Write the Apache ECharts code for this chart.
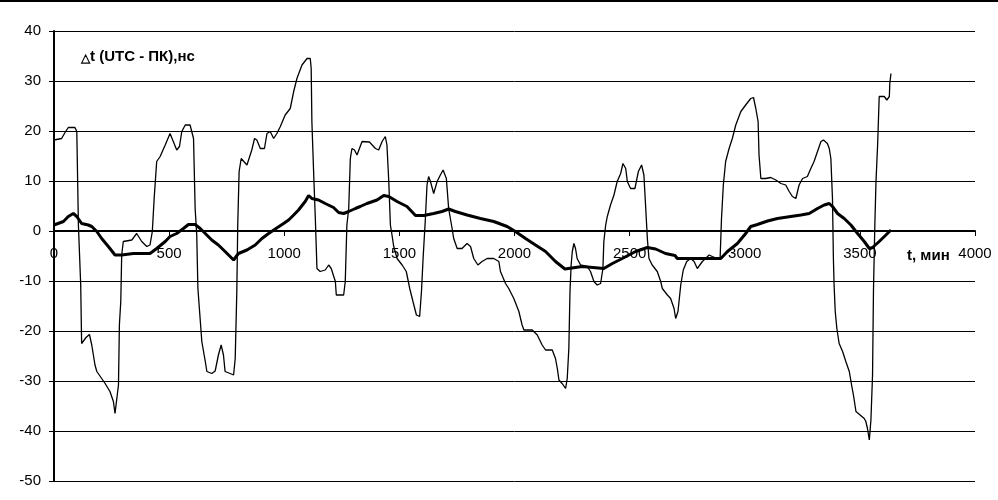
<!DOCTYPE html>
<html>
<head>
<meta charset="utf-8">
<script src="https://cdn.jsdelivr.net/npm/echarts@6/dist/echarts.min.js"></script>
<style>
  html, body { margin: 0; padding: 0; background: #fff; }
  #chart { width: 998px; height: 500px; }
</style>
</head>
<body>
<div id="chart"></div>
<script>
// x ticks (мин) and y ticks (нс)
var xTicks = [0, 500, 1000, 1500, 2000, 2500, 3000, 3500, 4000];
var yTicks = [-50, -40, -30, -20, -10, 0, 10, 20, 30, 40];

// thin curve: raw difference
var thinT = [0, 33, 48, 62, 91, 99, 106, 116, 120, 139, 154, 164, 178, 186, 222, 243, 258, 265, 272, 280,
  284, 290, 294, 301, 338, 359, 381, 403, 417, 427, 435, 446, 461, 483, 504, 512, 533, 545, 555, 570,
  591, 606, 613, 620, 625, 642, 657, 664, 685, 700, 714, 726, 736, 743, 765, 780, 787, 794, 798, 804,
  813, 838, 859, 871, 881, 896, 914, 925, 939, 954, 968, 983, 1004, 1026, 1041, 1055, 1077, 1099, 1113, 1117,
  1120, 1128, 1135, 1142, 1156, 1178, 1193, 1204, 1222, 1226, 1258, 1265, 1272, 1280, 1287, 1294, 1305, 1316, 1338, 1345,
  1370, 1396, 1410, 1425, 1439, 1446, 1454, 1461, 1468, 1475, 1490, 1512, 1530, 1545, 1559, 1574, 1588, 1596, 1603, 1613,
  1620, 1627, 1635, 1649, 1664, 1678, 1690, 1704, 1714, 1729, 1736, 1751, 1772, 1794, 1809, 1823, 1841, 1859, 1881, 1910,
  1932, 1939, 1961, 1975, 1997, 2019, 2033, 2041, 2077, 2099, 2120, 2135, 2164, 2178, 2186, 2193, 2207, 2222, 2229, 2236,
  2241, 2246, 2251, 2258, 2265, 2272, 2287, 2316, 2330, 2345, 2359, 2374, 2384, 2388, 2396, 2403, 2417, 2432, 2446, 2461,
  2471, 2483, 2490, 2504, 2523, 2538, 2552, 2562, 2570, 2577, 2584, 2598, 2620, 2635, 2642, 2664, 2678, 2693, 2700, 2710,
  2722, 2733, 2748, 2765, 2780, 2794, 2816, 2830, 2845, 2859, 2881, 2893, 2899, 2907, 2917, 2932, 2946, 2961, 2983, 3004,
  3026, 3038, 3048, 3058, 3062, 3070, 3091, 3113, 3135, 3157, 3178, 3193, 3207, 3222, 3236, 3251, 3272, 3287, 3301, 3316,
  3331, 3342, 3359, 3367, 3374, 3381, 3385, 3388, 3393, 3400, 3410, 3425, 3439, 3454, 3464, 3472, 3483, 3501, 3519, 3526,
  3533, 3541, 3545, 3548, 3555, 3559, 3565, 3570, 3577, 3584, 3606, 3617, 3628, 3630, 3635];
var thinV = [18.2, 18.5, 19.7, 20.7, 20.7, 19.9, 1.2, -10.8, -22.5, -21.3, -20.7, -22.8, -26.8, -28.1, -30.5, -32.1, -34.1, -36.5, -36.5, -30.8,
  -18.8, -14.1, -4.8, -2.1, -1.8, -0.5, -2.1, -3.1, -2.8, -0.1, 6.5, 13.9, 14.9, 17.2, 19.5, 19.5, 16.2, 16.9, 19.9, 21.2,
  21.2, 18.5, 4.5, -0.8, -11.5, -22.1, -26.1, -28.1, -28.5, -28, -24.8, -22.8, -24.8, -28.1, -28.5, -28.8, -25.5, -12.1, 1.2, 11.9,
  14.5, 13.2, 16.2, 18.5, 18.2, 16.5, 16.5, 19.5, 19.9, 18.5, 19.5, 20.9, 23.2, 24.5, 27.9, 30.5, 33.2, 34.5, 34.5, 32.5,
  21.9, 11.2, 2.5, -7.5, -8.1, -7.8, -6.8, -7.5, -10.1, -12.8, -12.8, -10.1, 1.2, 4.5, 14.5, 16.5, 16.2, 15.2, 17.9, 18.2,
  17.8, 16.5, 16.2, 17.9, 18.9, 17.2, 9.9, 1.2, -0.8, -3, -5.5, -6.8, -8.1, -11.5, -14.1, -16.8, -17.1, -12.1, -5.5, 2.5,
  9.2, 10.9, 9.9, 7.5, 9.9, 11.2, 12.2, 10.5, 4.5, 0.5, -1.5, -3.5, -3.5, -2.5, -3.1, -5.5, -6.8, -6.1, -5.5, -5.5,
  -6.1, -8.1, -10.5, -11.5, -13.5, -16.1, -18.8, -19.8, -19.8, -20.8, -22.8, -23.8, -23.8, -25.5, -27.5, -29.8, -30.5, -31.5, -29.5, -23.5,
  -12.1, -6.8, -4.1, -2.5, -3.5, -5.5, -6.8, -7.1, -8.1, -10.1, -10.8, -10.5, -7.5, -2.1, 1.2, 2.9, 5.2, 7.2, 9.9, 11.5,
  13.5, 12.5, 9.9, 8.5, 8.5, 11.9, 13.2, 11.2, 4.5, -1.5, -5.5, -6.8, -8.1, -10.1, -11.5, -12.8, -13.5, -15.5, -17.5, -16.1,
  -10.8, -7.8, -6.1, -5.5, -6.1, -7.5, -6.1, -5.5, -4.8, -5.1, -5.5, -5.5, 2.5, 9.2, 13.9, 16.5, 18.5, 21.2, 23.9, 25.2,
  26.5, 26.7, 24.5, 21.9, 15.2, 10.5, 10.5, 10.7, 10.2, 9.5, 9.2, 7.9, 6.9, 6.5, 9.2, 10.5, 10.9, 12.5, 13.9, 15.9,
  17.9, 18.2, 17.5, 16.5, 14.5, 6.5, -5.5, -10.8, -16.1, -19.5, -22.5, -24.1, -26.1, -28.1, -30.8, -32.8, -36.1, -36.8, -37.5, -38.1,
  -39.5, -41.8, -42.1, -37.8, -28.8, -12.1, 1.2, 9.9, 17.2, 26.9, 26.9, 26.2, 26.9, 29.5, 31.5];

// thick curve: smoothed
var thickT = [0, 41, 62, 84, 99, 120, 149, 164, 186, 207, 236, 265, 294, 345, 417, 446, 483, 504, 533, 562,
  584, 613, 635, 657, 685, 714, 743, 780, 801, 838, 874, 903, 932, 961, 997, 1019, 1041, 1062, 1091, 1106,
  1120, 1149, 1178, 1214, 1236, 1258, 1280, 1309, 1330, 1359, 1403, 1432, 1454, 1490, 1533, 1570, 1606, 1649, 1685, 1714,
  1743, 1794, 1852, 1910, 1968, 2004, 2048, 2091, 2135, 2178, 2219, 2294, 2388, 2425, 2468, 2526, 2577, 2613, 2656, 2697,
  2707, 2751, 2823, 2896, 2925, 2968, 3004, 3026, 3055, 3099, 3142, 3200, 3244, 3280, 3316, 3345, 3367, 3381, 3403, 3432,
  3461, 3490, 3519, 3541, 3555, 3584, 3613, 3635];
var thickV = [1.2, 1.9, 2.9, 3.5, 2.9, 1.5, 1.2, 0.9, -0.1, -1.5, -3.1, -4.8, -4.8, -4.5, -4.5, -3.5, -2.1, -1.1, -0.5, 0.5,
  1.3, 1.3, 0.5, -0.5, -1.8, -2.8, -4.1, -5.8, -4.5, -3.8, -2.8, -1.5, -0.5, 0.4, 1.5, 2.2, 3.2, 4.2, 5.9, 7.1,
  6.5, 6.2, 5.5, 4.7, 3.7, 3.5, 3.9, 4.5, 4.9, 5.5, 6.2, 7.1, 6.9, 5.9, 4.9, 3.1, 3.1, 3.5, 3.9, 4.4,
  3.9, 3.2, 2.5, 1.9, 0.9, -0.1, -1.5, -2.8, -4.1, -6.1, -7.6, -7.1, -7.5, -6.5, -5.5, -4.1, -3.3, -3.6, -4.5, -4.9,
  -5.5, -5.5, -5.5, -5.5, -4.1, -2.5, -0.5, 0.9, 1.3, 2.0, 2.5, 2.9, 3.2, 3.5, 4.5, 5.2, 5.5, 4.9, 3.5, 2.5,
  1.2, -0.5, -2.1, -3.5, -3.3, -2.1, -0.8, 0.2];

function pairs(ts, vs) {
  return ts.map(function (t, i) { return [t, vs[i]]; });
}

var myChart = echarts.init(document.getElementById("chart"));
var font = "'Liberation Sans', Arial, sans-serif";

myChart.setOption({
  animation: false,
  backgroundColor: "#fff",
  grid: { left: 54, right: 23, top: 31, bottom: 19, containLabel: false, outerBoundsMode: "none" },
  title: {
    text: "{tri|△}t (UTC - ПК),нс",
    left: 76,
    top: 44,
    textStyle: {
      fontFamily: font,
      fontSize: 15,
      fontWeight: "bold",
      color: "#000",
      rich: {
        tri: { fontFamily: font, fontSize: 12, fontWeight: "bold", color: "#000", verticalAlign: "bottom", padding: [4, 0, 0, 0] }
      }
    }
  },
  graphic: [
    { type: "rect", left: 0, top: 0, shape: { width: 998, height: 2 }, style: { fill: "#000" } },
    {
      type: "text", left: 907, top: 248,
      style: { text: "t, мин", font: "bold 15px " + font, fill: "#000" }
    }
  ],
  xAxis: {
    type: "value",
    position: "bottom",
    offset: -250,
    min: xTicks[0],
    max: xTicks[xTicks.length - 1],
    interval: 500,
    splitLine: { show: false },
    axisLine: { onZero: false, lineStyle: { color: "#000", width: 2 } },
    axisTick: { show: true, length: 5, lineStyle: { color: "#000", width: 1 } },
    axisLabel: {
      color: "#000", fontFamily: font, fontSize: 15, margin: 15,
      formatter: function (v) { return String(v); }
    }
  },
  yAxis: {
    type: "value",
    min: yTicks[0],
    max: yTicks[yTicks.length - 1],
    interval: 10,
    axisLine: { show: true, onZero: false, lineStyle: { color: "#000", width: 2 } },
    axisTick: { show: true, length: 5, lineStyle: { color: "#000", width: 1 } },
    axisLabel: { color: "#000", fontFamily: font, fontSize: 15, margin: 13 },
    splitLine: { show: true, lineStyle: { color: "#000", width: 1 } }
  },
  series: [
    {
      name: "raw",
      type: "line",
      data: pairs(thinT, thinV),
      showSymbol: false,
      lineStyle: { color: "#000", width: 1.3 },
      z: 3
    },
    {
      name: "smooth",
      type: "line",
      data: pairs(thickT, thickV),
      showSymbol: false,
      lineStyle: { color: "#000", width: 3 },
      z: 4
    }
  ]
});
</script>
</body>
</html>
